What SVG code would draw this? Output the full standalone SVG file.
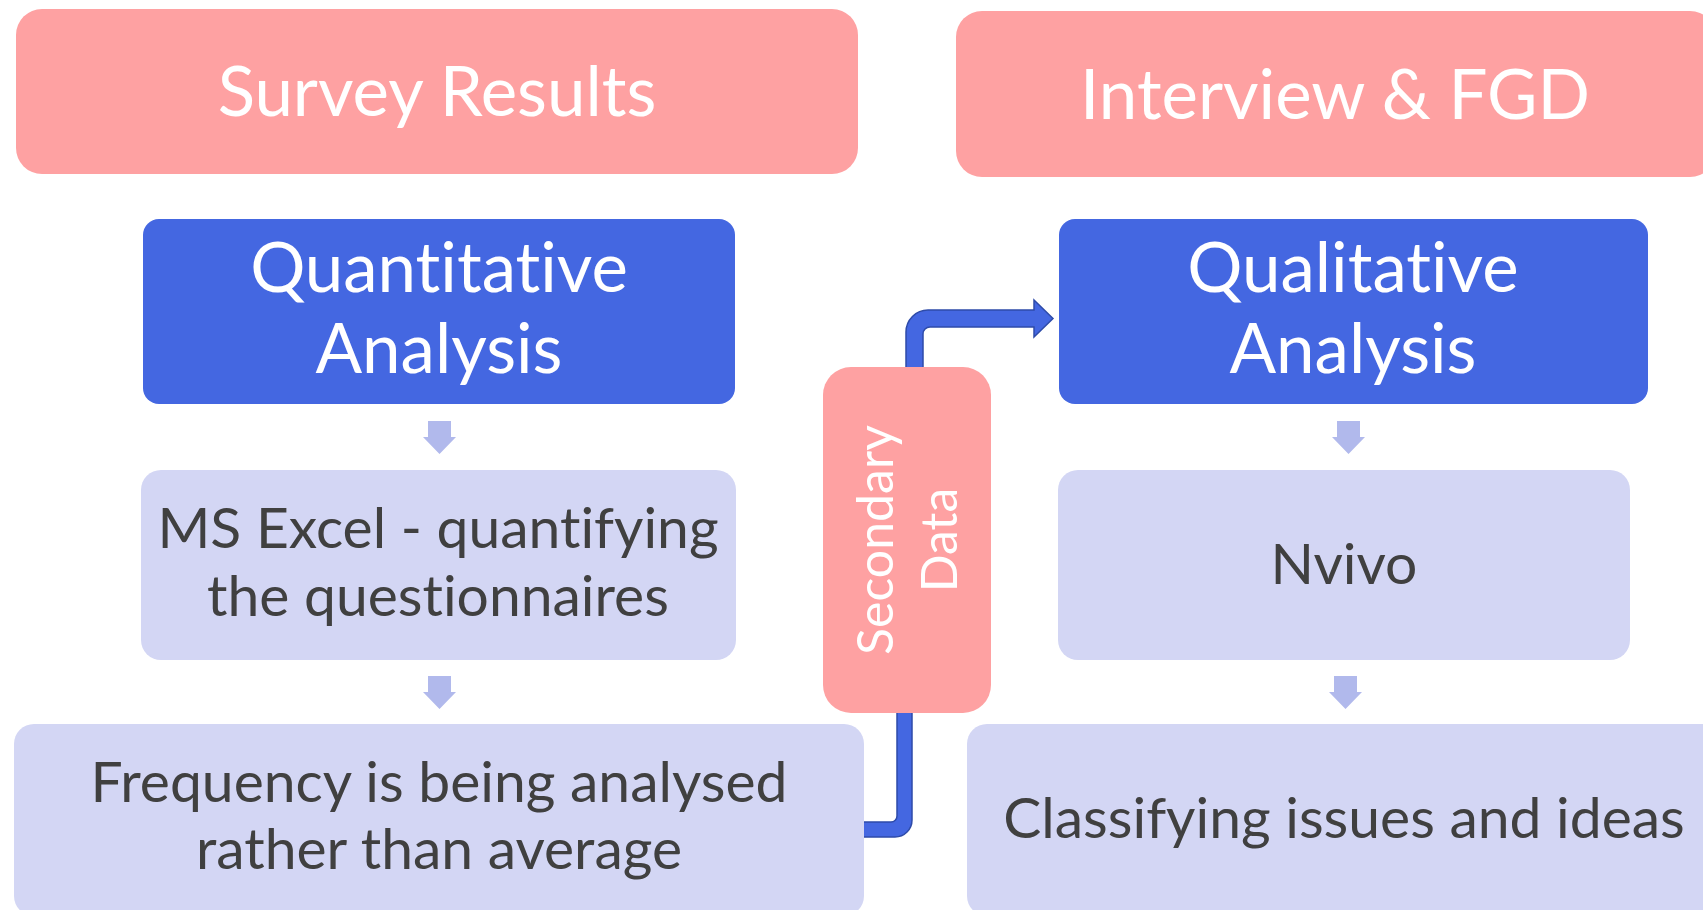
<svg xmlns="http://www.w3.org/2000/svg" width="1703" height="910" viewBox="0 0 1703 910">
<style>
.pink{fill:#FEA1A2}
.blue{fill:#4467E1}
.lav{fill:#D3D6F4}
.small{fill:#B1B9EC}
.conn{fill:#4467E1;stroke:#2E4BA9;stroke-width:1.5;stroke-linejoin:miter}
text{font-family:Lato,"Open Sans","Liberation Sans",sans-serif;text-anchor:middle;font-variant-ligatures:none;font-feature-settings:"liga" 0}
.w{fill:#FFFFFF;font-size:69px}
.d{fill:#404040;font-size:57px}
.s{fill:#FFFFFF;font-size:50px}
</style>
<rect width="1703" height="910" fill="#FFFFFF"/>
<g id="connectors">
<path class="conn" d="M 906 372 L 906 332 A 22 22 0 0 1 928 310 L 1034 310 L 1034 300 L 1053 318.5 L 1034 337 L 1034 327 L 930 327 A 7 7 0 0 0 923 334 L 923 372 Z"/>
<path class="conn" d="M 858 822 L 891 822 A 6 6 0 0 0 897 816 L 897 708 L 912 708 L 912 820 A 17 17 0 0 1 895 837 L 858 837 Z"/>
<path class="small" d="M 428 421 L 451 421 L 451 437 L 456 437 L 439.5 454 L 423 437 L 428 437 Z"/>
<path class="small" d="M 428 676 L 451 676 L 451 692 L 456 692 L 439.5 709 L 423 692 L 428 692 Z"/>
<path class="small" d="M 1337 421 L 1360 421 L 1360 437 L 1365 437 L 1348.5 454 L 1332 437 L 1337 437 Z"/>
<path class="small" d="M 1334 676 L 1357 676 L 1357 692 L 1362 692 L 1345.5 709 L 1329 692 L 1334 692 Z"/>
</g>
<g id="survey-results">
<rect class="pink" x="16" y="9" width="842" height="165" rx="26"/>
<text class="w" x="437" y="116">Survey Results</text>
</g>
<g id="interview-fgd">
<rect class="pink" x="956" y="11" width="760" height="166" rx="26"/>
<text class="w" x="1335" y="119">Interview &amp; FGD</text>
</g>
<g id="quantitative-analysis">
<rect class="blue" x="143" y="219" width="592" height="185" rx="16"/>
<text class="w" x="439" y="292">Quantitative</text>
<text class="w" x="439" y="373">Analysis</text>
</g>
<g id="qualitative-analysis">
<rect class="blue" x="1059" y="219" width="589" height="185" rx="16"/>
<text class="w" x="1353" y="292">Qualitative</text>
<text class="w" x="1353" y="373">Analysis</text>
</g>
<g id="ms-excel">
<rect class="lav" x="141" y="470" width="595" height="190" rx="20"/>
<text class="d" x="438" y="548">MS Excel - quantifying</text>
<text class="d" x="438" y="616">the questionnaires</text>
</g>
<g id="nvivo">
<rect class="lav" x="1058" y="470" width="572" height="190" rx="20"/>
<text class="d" x="1344" y="584">Nvivo</text>
</g>
<g id="frequency">
<rect class="lav" x="14" y="724" width="850" height="192" rx="20"/>
<text class="d" x="439" y="802">Frequency is being analysed</text>
<text class="d" x="439" y="869">rather than average</text>
</g>
<g id="classifying">
<rect class="lav" x="967" y="724" width="760" height="192" rx="20"/>
<text class="d" x="1344" y="838">Classifying issues and ideas</text>
</g>
<g id="secondary-data">
<rect class="pink" x="823" y="367" width="168" height="346" rx="28"/>
<text class="s" transform="translate(893 540) rotate(-90)" x="0" y="0">Secondary</text>
<text class="s" transform="translate(957 540) rotate(-90)" x="0" y="0">Data</text>
</g>
</svg>
